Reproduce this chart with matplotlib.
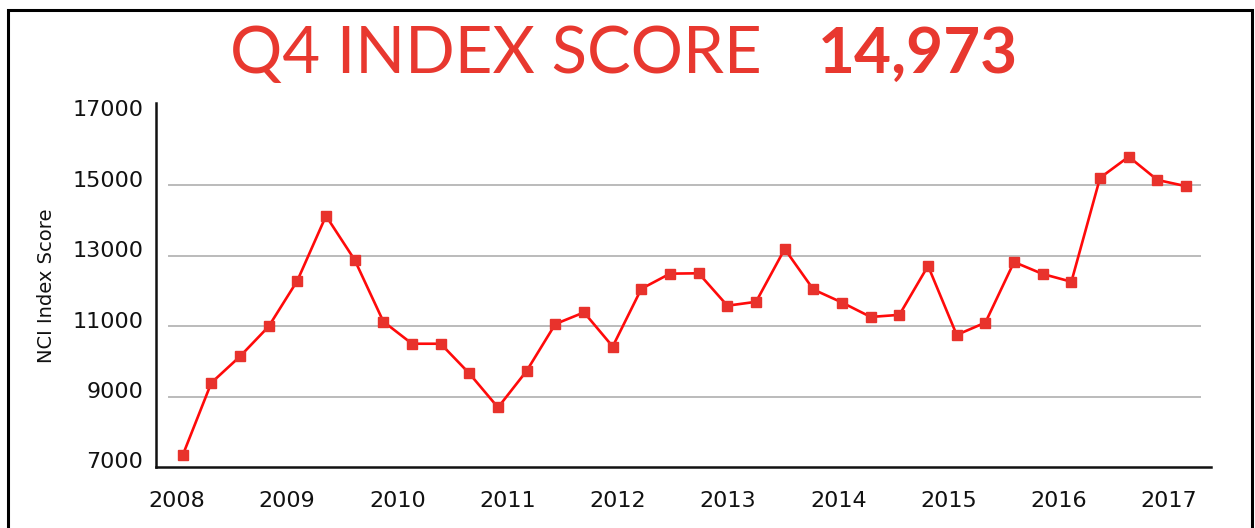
import matplotlib
matplotlib.use("Agg")
import matplotlib.pyplot as plt
import matplotlib.transforms as mtransforms
from matplotlib.patches import Rectangle
import numpy as np

# ---- data ----
scores = [7330, 9390, 10140, 10990, 12290, 14130, 12880, 11130, 10500,
          10500, 9655, 8690, 9730, 11060, 11390, 10420, 12060, 12490,
          12500, 11580, 11690, 13190, 12040, 11670, 11260, 11320, 12710,
          10750, 11100, 12820, 12480, 12260, 15210, 15810, 15150, 14973]
year_labels = ["2008", "2009", "2010", "2011", "2012",
               "2013", "2014", "2015", "2016", "2017"]
y_ticks = [7000, 9000, 11000, 13000, 15000, 17000]
grid_values = [9000, 11000, 13000, 15000]
title_text = "Q4 INDEX SCORE"
title_value = "14,973"
y_label = "NCI Index Score"

RED_LINE = "#FF0A0A"
RED_MARK = "#E8322C"
RED_TITLE = "#E8382F"

W, H = 1255, 528
fig = plt.figure(figsize=(W / 100, H / 100), dpi=100)
fig.patch.set_facecolor("white")

# frame border
fig.add_artist(Rectangle((8 / W, -0.05), (1252 - 8) / W, (528 - 10) / H + 0.05,
                         transform=fig.transFigure, fill=False,
                         edgecolor="black", linewidth=2.2))

ax = fig.add_axes([156 / W, (H - 467) / H, (1211 - 156) / W, (467 - 103) / H])

x = np.arange(len(scores))
ax.plot(x, scores, color=RED_LINE, linewidth=1.9, zorder=3)
ax.plot(x, scores, linestyle="none", marker="s", markersize=7.2,
        markerfacecolor=RED_MARK, markeredgecolor=RED_MARK, zorder=4)

ax.set_xlim(-0.93, 35.87)
ax.set_ylim(7000, 17335)

for g in grid_values:
    ax.axhline(g, xmin=0.0123, xmax=0.9896, color="#BBBBBB", linewidth=1.4, zorder=1)

for s in ["top", "right"]:
    ax.spines[s].set_visible(False)
for s in ["left", "bottom"]:
    ax.spines[s].set_color("#111111")
    ax.spines[s].set_linewidth(1.8)

ax.set_yticks(y_ticks)
ax.set_yticklabels([str(v) for v in y_ticks])
ax.set_xticks(np.linspace(-0.2, 34.4, len(year_labels)))
ax.set_xticklabels(year_labels)
ax.tick_params(axis="both", length=0, labelsize=16, labelcolor="#111111")
ax.tick_params(axis="y", pad=9)
ax.tick_params(axis="x", pad=17)

offset = mtransforms.ScaledTranslation(0, 6.5 / 100, fig.dpi_scale_trans)
for lab in ax.get_yticklabels():
    lab.set_transform(lab.get_transform() + offset)

fig.text(47 / W, (H - 286) / H, y_label, rotation=90, ha="center", va="center",
         fontsize=14, color="#111111")

fig.text(230 / W, (H - 73) / H, title_text, ha="left", va="baseline",
         fontsize=47, color=RED_TITLE, family="Lato", fontweight="normal")
fig.text(1018 / W, (H - 73) / H, title_value, ha="right", va="baseline",
         fontsize=46, color=RED_TITLE, family="Lato", fontweight="bold")

fig.savefig("out.png", dpi=100, facecolor="white")
